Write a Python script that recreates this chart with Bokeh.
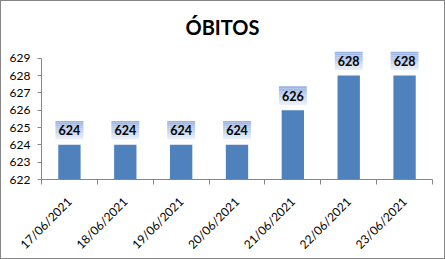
from bokeh.plotting import figure
from bokeh.models import Range1d, FixedTicker, LinearAxis
from bokeh.embed import file_html
from bokeh.resources import INLINE
from bokeh.core.properties import value

# ---- data ----
dates = ["17/06/2021", "18/06/2021", "19/06/2021", "20/06/2021",
         "21/06/2021", "22/06/2021", "23/06/2021"]
obitos = [624, 624, 624, 624, 626, 628, 628]
y_ticks = [622, 623, 624, 625, 626, 627, 628, 629]
title_text = "ÓBITOS"

FONT = "Lato"
GRAY = "#868686"
BAR = "#4F81BD"

xs = [i + 0.5 for i in range(len(dates))]
y0, y1 = y_ticks[0], y_ticks[-1]

p = figure(width=445, height=259, output_backend="svg", toolbar_location=None,
           x_range=Range1d(0, len(dates)), y_range=Range1d(y0, y1 + 0.45),
           min_border_left=40, min_border_right=14, min_border_top=48,
           min_border_bottom=73, x_axis_type=None, y_axis_type=None,
           styles={"border": "1px solid " + GRAY, "box-sizing": "border-box"})
p.outline_line_color = None
p.background_fill_color = "white"
p.border_fill_color = "white"

# title
p.title.text = title_text
p.title.text_font = FONT
p.title.text_font_style = "bold"
p.title.text_font_size = "20px"
p.title.text_color = "black"
p.title.align = "left"
p.title.offset = 144
p.title.standoff = 23

# y axis
yax = LinearAxis(ticker=FixedTicker(ticks=y_ticks), bounds=(y0, y1))
yax.axis_line_color = GRAY
yax.major_tick_line_color = GRAY
yax.major_tick_out = 4
yax.major_tick_in = 0
yax.minor_tick_line_color = None
yax.major_label_text_font = FONT
yax.major_label_text_font_size = "12px"
yax.major_label_text_color = "black"
yax.major_label_standoff = 7
p.add_layout(yax, "left")

# x axis: labels at centres, tick marks at category boundaries
xax = LinearAxis(ticker=FixedTicker(ticks=xs, minor_ticks=list(range(len(dates) + 1))))
xax.major_label_overrides = {x: d for x, d in zip(xs, dates)}
xax.axis_line_color = GRAY
xax.major_tick_line_color = None
xax.minor_tick_line_color = GRAY
xax.minor_tick_out = 5
xax.minor_tick_in = 0
xax.major_label_orientation = 0.785398
xax.major_label_text_font = FONT
xax.major_label_text_font_size = "12px"
xax.major_label_text_color = "black"
xax.major_label_standoff = 14
p.add_layout(xax, "below")

p.ygrid.ticker = FixedTicker(ticks=y_ticks)
p.ygrid.grid_line_color = GRAY
p.ygrid.grid_line_width = 1
p.xgrid.grid_line_color = None

# bars
p.vbar(x=xs, top=obitos, bottom=y0, width=0.4, fill_color=BAR, line_color=None)

# data-label boxes with vertical gradient (stacked strips)
c_top = (0x9A, 0xB5, 0xE4)
c_bot = (0xE6, 0xED, 0xF8)
N = 10
lo_off, hi_off = 0.32, 1.38
for k in range(N):
    t = k / (N - 1)
    col = "#%02x%02x%02x" % tuple(int(round(c_bot[j] + (c_top[j] - c_bot[j]) * t)) for j in range(3))
    b = [v + lo_off + (hi_off - lo_off) * k / N for v in obitos]
    tp = [v + lo_off + (hi_off - lo_off) * (k + 1) / N for v in obitos]
    p.quad(left=[x - 0.25 for x in xs], right=[x + 0.25 for x in xs],
           bottom=b, top=tp, fill_color=col, line_color=None)

p.text(x=xs, y=[v + (lo_off + hi_off) / 2 for v in obitos], text=[str(v) for v in obitos],
       text_align="center", text_baseline="middle", text_font=value(FONT),
       text_font_style="bold", text_font_size="12.5px", text_color="black")

open("out.html", "w").write(file_html(p, INLINE))
